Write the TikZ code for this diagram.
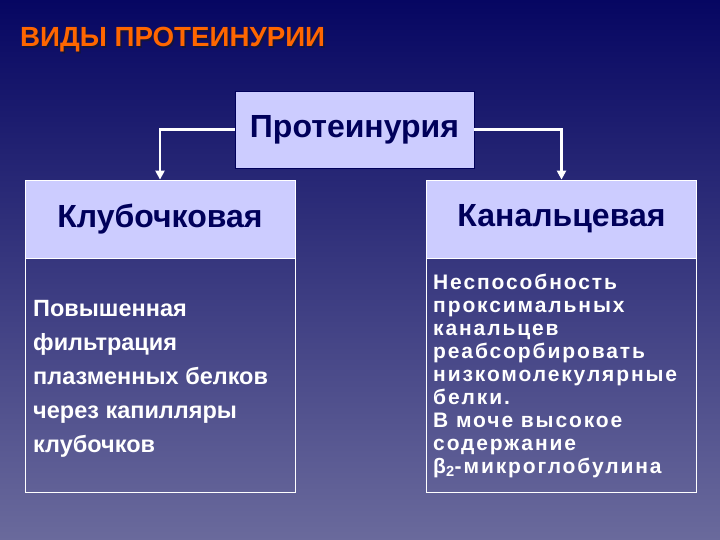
\documentclass[tikz,border=0pt]{standalone}
\usepackage{fontspec}
\setmainfont{Liberation Sans}
\usetikzlibrary{arrows.meta}
\definecolor{bgtop}{RGB}{6,6,98}
\definecolor{bgbot}{RGB}{106,106,156}
\definecolor{lav}{RGB}{204,204,255}
\definecolor{navy}{RGB}{0,0,90}
\definecolor{orng}{RGB}{255,102,0}
\definecolor{shd}{RGB}{20,20,60}
\tikzset{
  topbox/.style={draw=navy, line width=0.8pt, fill=lav, minimum width=239pt, minimum height=77pt, inner sep=0pt,
    font=\bfseries\fontsize{32}{34}\selectfont, text=navy},
  headbox/.style={draw=white, line width=0.8pt, fill=lav, minimum width=270pt, minimum height=78pt, inner sep=0pt,
    font=\bfseries\fontsize{32}{34}\selectfont, text=navy},
  bodybox/.style={draw=white, line width=0.8pt, minimum width=270pt, minimum height=234pt, inner sep=0pt},
  conn/.style={draw=white, line width=2.6pt, -{Triangle[length=9pt,width=9pt]}},
}
\begin{document}
\begin{tikzpicture}[x=1pt,y=-1pt]
\fill[top color=bgtop,bottom color=bgbot] (0,0) rectangle (720,540);
\useasboundingbox (0,0) rectangle (720,540);
% title
\node[anchor=west, inner sep=0pt, font=\bfseries\fontsize{27.7}{28}\selectfont, text=shd] (titleshadow) at (21.5,41.5) {ВИДЫ ПРОТЕИНУРИИ};
\node[anchor=west, inner sep=0pt, font=\bfseries\fontsize{27.7}{28}\selectfont, text=orng] (title) at (20,40) {ВИДЫ ПРОТЕИНУРИИ};
% boxes
\node[topbox] (top) at (354.5,129.5) {Протеинурия};
\node[headbox] (kl) at (160,219) {Клубочковая};
\node[headbox] (ka) at (561.5,219) {Канальцевая};
\node[bodybox] (klb) at (160,375) {};
\node[bodybox] (kab) at (561.5,375) {};
% body texts
\node[anchor=west, inner sep=0pt, text=white, align=left, font=\bfseries\fontsize{23.5}{34}\selectfont] (kltext) at (33,379)
  {Повышенная\\фильтрация\\плазменных белков\\через капилляры\\клубочков};
\node[anchor=west, inner sep=0pt, text=white, align=left, font=\bfseries\fontsize{21}{23}\selectfont\addfontfeatures{LetterSpace=9}] (katext) at (433,376)
  {Неспособность\\проксимальных\\канальцев\\реабсорбировать\\низкомолекулярные\\белки.\\В моче высокое\\содержание\\β\textsubscript{2}-микроглобулина};
% connectors
\draw[conn] (top.west) -| (kl.north);
\draw[conn] (top.east) -| (ka.north);
\end{tikzpicture}
\end{document}
